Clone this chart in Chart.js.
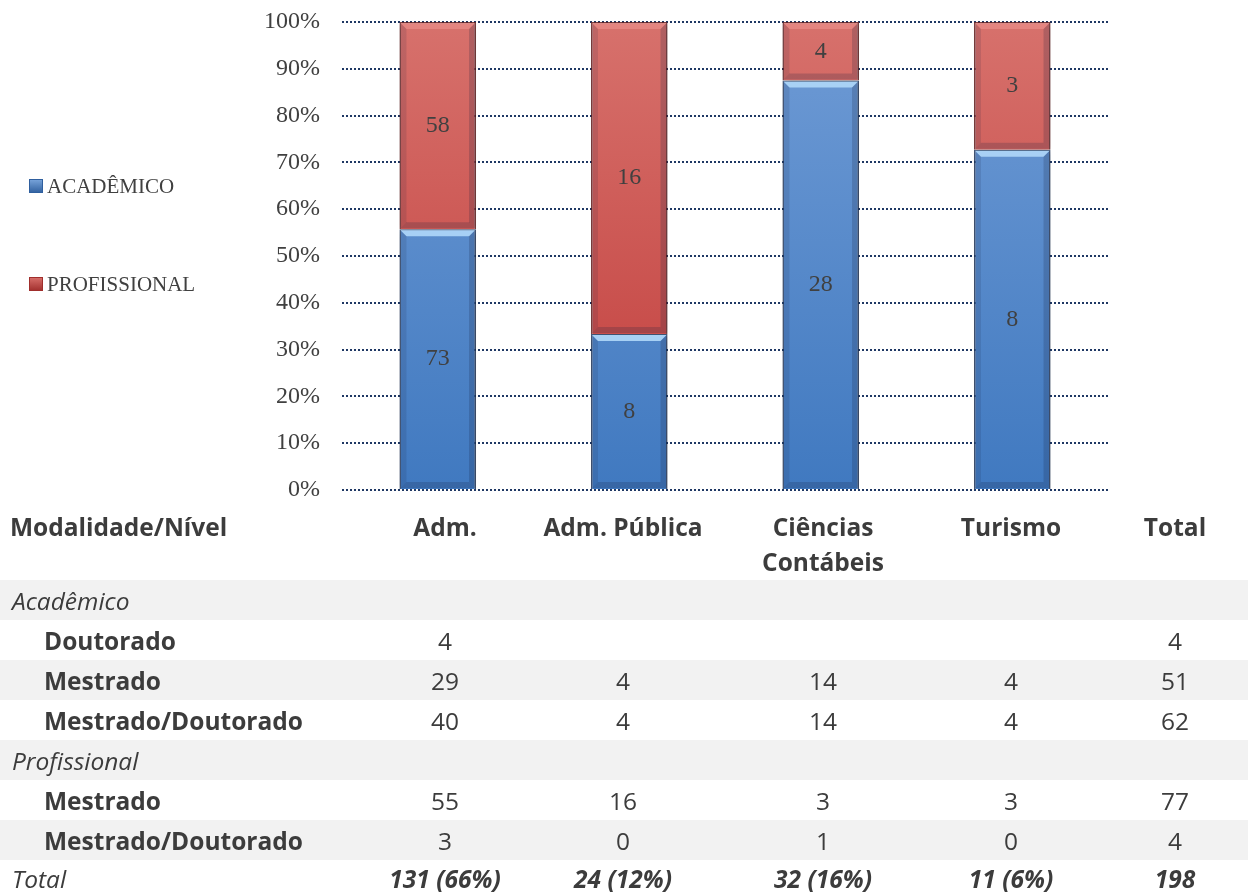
<!DOCTYPE html>
<html>
<head>
<meta charset="utf-8">
<script src="https://cdn.jsdelivr.net/npm/chart.js@4.4.0/dist/chart.umd.min.js"></script>
<style>
  body { margin: 0; background: #fff; width: 1253px; height: 896px; overflow: hidden; position: relative; color: #404040; }
  #chartBox { position: absolute; left: 0; top: 0; width: 1253px; height: 526px; }
  table { position: absolute; left: 0; top: 505px; width: 1248px; border-collapse: collapse; table-layout: fixed;
          font-family: "Open Sans", sans-serif; font-size: 24.5px; color: #3c3c3c; }
  td { padding: 0; height: 40px; text-align: center; white-space: nowrap; }
  tr.head td { height: 71px; vertical-align: top; padding-top: 4px; font-weight: bold; line-height: 35px; }
  tr.grey td { background: #f2f2f2; }
  td.lbl { text-align: left; padding-left: 10px; }
  td.sub { padding-left: 44px; font-weight: bold; }
  tr.group td.lbl { font-style: italic; padding-left: 12px; }
  tr.total td { font-style: italic; font-weight: bold; height: 36px; }
  tr.total td.lbl { font-weight: normal; padding-left: 12px; }
</style>
</head>
<body>
<div id="chartBox"><canvas id="chart"></canvas></div>
<table id="tbl"></table>
<script>
/* chart data: counts per course */
const categories = ['Adm.', 'Adm. Pública', 'Ciências Contábeis', 'Turismo'];
const academico = [73, 8, 28, 8];
const profissional = [58, 16, 4, 3];
const yTicks = [0, 10, 20, 30, 40, 50, 60, 70, 80, 90, 100];

/* table data */
const tableHeaders = ['Adm.', 'Adm. Pública', 'Ciências<br>Contábeis', 'Turismo', 'Total'];
const acadDoutorado = [4, '', '', '', 4];
const acadMestrado = [29, 4, 14, 4, 51];
const acadMestDout = [40, 4, 14, 4, 62];
const profMestrado = [55, 16, 3, 3, 77];
const profMestDout = [3, 0, 1, 0, 4];
const totals = ['131 (66%)', '24 (12%)', '32 (16%)', '11 (6%)', '198'];

/* 100% stacking */
const pctAcad = academico.map((v, i) => v / (v + profissional[i]) * 100);
const pctProf = profissional.map((v, i) => v / (academico[i] + v) * 100);

const serif = '"Liberation Serif", "Times New Roman", serif';

function grad(ctx, light, dark) {
  const a = ctx.chart.chartArea;
  if (!a) return dark;
  const g = ctx.chart.ctx.createLinearGradient(0, a.top, 0, a.bottom);
  g.addColorStop(0, light);
  g.addColorStop(1, dark);
  return g;
}

function quad(c, pts, fill) {
  c.fillStyle = fill;
  c.beginPath();
  c.moveTo(pts[0], pts[1]);
  for (let k = 2; k < pts.length; k += 2) c.lineTo(pts[k], pts[k + 1]);
  c.closePath();
  c.fill();
}

const barLook = {
  id: 'barLook',
  beforeDatasetsDraw(chart) {
    const c = chart.ctx;
    c.save();
    c.shadowColor = 'rgba(0,0,0,0.35)';
    c.shadowBlur = 7;
    c.shadowOffsetX = 1;
    c.shadowOffsetY = 1;
  },
  afterDatasetsDraw(chart) {
    const c = chart.ctx;
    c.restore();
    // bevel on each segment
    const b = 6;
    chart.data.datasets.forEach((ds, di) => {
      chart.getDatasetMeta(di).data.forEach(el => {
        const p = el.getProps(['x', 'y', 'base', 'width'], true);
        const l = p.x - p.width / 2 + 1, r = p.x + p.width / 2 - 1;
        const t = p.y + 1, bt = p.base - 1;
        quad(c, [l, t, r, t, r - b, t + b, l + b, t + b],
          di === 0 ? 'rgba(172,212,247,0.95)' : 'rgba(240,150,145,0.55)');
        quad(c, [l, t, l + b, t + b, l + b, bt - b, l, bt], 'rgba(20,30,60,0.13)');
        quad(c, [r, t, r - b, t + b, r - b, bt - b, r, bt], 'rgba(20,30,60,0.2)');
        quad(c, [l, bt, l + b, bt - b, r - b, bt - b, r, bt], 'rgba(20,30,60,0.2)');
      });
    });
    // value labels
    c.save();
    c.font = '24px ' + serif;
    c.fillStyle = '#404040';
    c.textAlign = 'center';
    c.textBaseline = 'middle';
    chart.data.datasets.forEach((ds, di) => {
      chart.getDatasetMeta(di).data.forEach((el, i) => {
        const p = el.getProps(['x', 'y', 'base'], true);
        c.fillText(ds.counts[i], p.x, (p.y + p.base) / 2);
      });
    });
    c.restore();
  }
};

const sideLegend = {
  id: 'sideLegend',
  afterDraw(chart) {
    const c = chart.ctx;
    c.save();
    c.font = '21px ' + serif;
    c.textBaseline = 'middle';
    const rows = [186, 284];
    chart.data.datasets.forEach((ds, di) => {
      const y = rows[di];
      const g = c.createLinearGradient(0, y - 7, 0, y + 7);
      g.addColorStop(0, ds.legendLight);
      g.addColorStop(1, ds.legendDark);
      c.fillStyle = g;
      c.fillRect(29, y - 7, 14, 14);
      c.strokeStyle = ds.legendDark;
      c.lineWidth = 1;
      c.strokeRect(29.5, y - 6.5, 13, 13);
      c.fillStyle = '#404040';
      c.fillText(ds.label, 47, y + 1);
    });
    c.restore();
  }
};

new Chart(document.getElementById('chart'), {
  type: 'bar',
  data: {
    labels: categories,
    datasets: [{
      label: 'ACADÊMICO',
      data: pctAcad,
      counts: academico,
      legendLight: '#7aa6dc', legendDark: '#2f5f9e',
      backgroundColor: ctx => grad(ctx, '#6f9bd5', '#4079c0'),
      borderColor: 'rgba(38,60,100,0.85)',
      borderWidth: 1.5
    }, {
      label: 'PROFISSIONAL',
      data: pctProf,
      counts: profissional,
      legendLight: '#d9706b', legendDark: '#a02e2c',
      backgroundColor: ctx => grad(ctx, '#d7716c', '#c13c3a'),
      borderColor: 'rgba(110,35,35,0.85)',
      borderWidth: 1.5
    }]
  },
  options: {
    responsive: true,
    maintainAspectRatio: false,
    animation: false,
    layout: { padding: { left: 262, right: 145, top: 22, bottom: 36 } },
    datasets: { bar: { barPercentage: 0.4, categoryPercentage: 1.0 } },
    plugins: { legend: { display: false }, tooltip: { enabled: false } },
    scales: {
      x: { stacked: true, display: false },
      y: {
        stacked: true,
        min: 0,
        max: 100,
        afterFit: s => { s.width = 80; s.paddingTop = 0; s.paddingBottom = 0; },
        afterBuildTicks: s => { s.ticks = yTicks.map(v => ({ value: v })); },
        ticks: {
          padding: 22,
          color: '#404040',
          font: { family: serif, size: 24 },
          callback: v => v + '%'
        },
        grid: { color: '#1f3864', lineWidth: 2, drawTicks: false },
        border: { display: false, dash: [2, 2] }
      }
    }
  },
  plugins: [barLook, sideLegend]
});

/* table */
function row(cls, label, lblCls, vals) {
  return '<tr class="' + cls + '"><td class="' + lblCls + '">' + label + '</td>' +
    vals.map(v => '<td>' + v + '</td>').join('') + '</tr>';
}
document.getElementById('tbl').innerHTML =
  '<colgroup><col style="width:370px"><col style="width:150px"><col style="width:206px">' +
  '<col style="width:194px"><col style="width:182px"><col style="width:146px"></colgroup>' +
  row('head', 'Modalidade/Nível', 'lbl', tableHeaders) +
  row('grey group', 'Acadêmico', 'lbl', ['', '', '', '', '']) +
  row('', 'Doutorado', 'lbl sub', acadDoutorado) +
  row('grey', 'Mestrado', 'lbl sub', acadMestrado) +
  row('', 'Mestrado/Doutorado', 'lbl sub', acadMestDout) +
  row('grey group', 'Profissional', 'lbl', ['', '', '', '', '']) +
  row('', 'Mestrado', 'lbl sub', profMestrado) +
  row('grey', 'Mestrado/Doutorado', 'lbl sub', profMestDout) +
  row('total', 'Total', 'lbl', totals);
</script>
</body>
</html>
